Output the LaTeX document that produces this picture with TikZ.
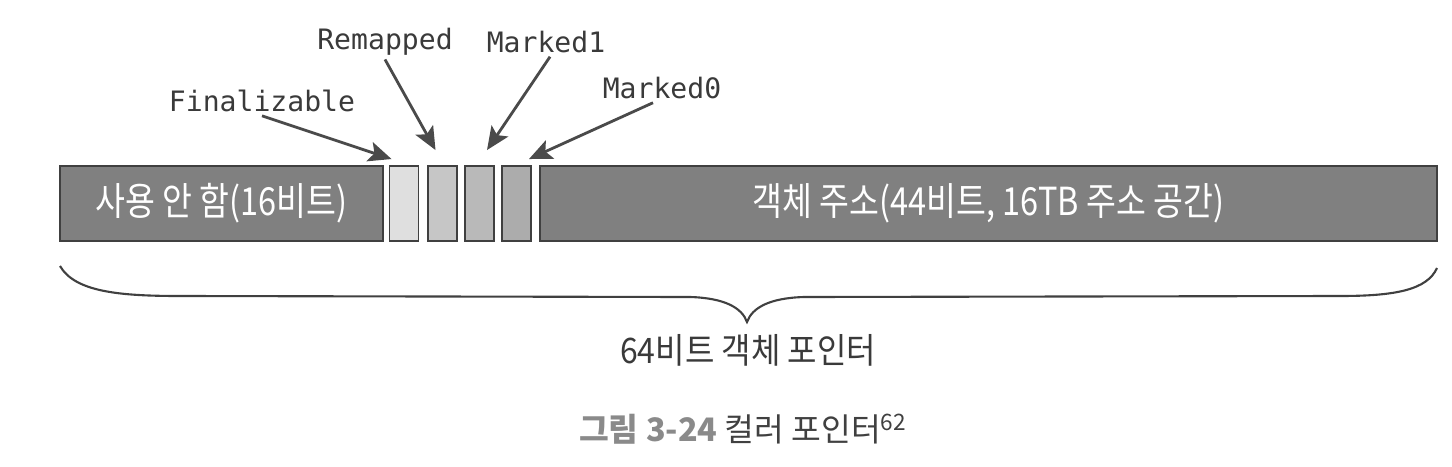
\documentclass[tikz,border=0pt]{standalone}
\usepackage{graphicx}
\usepackage{fontspec}
\setmainfont{Noto Sans CJK KR}
\setmonofont{DejaVu Sans Mono}
\usetikzlibrary{arrows.meta}

\definecolor{boxgray}{HTML}{808080}
\definecolor{edgegray}{HTML}{404040}
\definecolor{labgray}{HTML}{3A3A3A}
\definecolor{arrowgray}{HTML}{4A4A4A}
\definecolor{capgray}{HTML}{8A8A8A}
\definecolor{capdark}{HTML}{404040}

\newcommand\boxfont{\fontsize{22pt}{24pt}\selectfont}
\newcommand\narrow[1]{\scalebox{0.84}[1]{#1}}

\tikzset{
  field/.style={draw=edgegray, line width=1.1pt, fill=boxgray, minimum height=1.5cm,
    inner sep=0pt, text=white, font=\boxfont},
  flag/.style={draw=edgegray, line width=1.1pt, minimum width=0.58cm, minimum height=1.5cm, inner sep=0pt},
  flaglabel/.style={font=\ttfamily\fontsize{16pt}{18pt}\selectfont, text=labgray, inner sep=2pt},
  ptr/.style={draw=arrowgray, line width=1.6pt, -{Stealth[length=0.46cm,width=0.4cm,inset=0.1cm]}},
}

\begin{document}
\begin{tikzpicture}[x=0.02cm, y=-0.02cm]
    \useasboundingbox (0,0) rectangle (1452,466);
    % pointer fields
    \node [field, minimum width=6.46cm] (unused) at (221.5,203.5) {\narrow{사용 안 함(16비트)}};
    \node [flag, fill=gray!25] (fz) at (404,203.5) {};
    \node [flag, fill=gray!45] (rb) at (442.5,203.5) {};
    \node [flag, fill=gray!55] (mb1) at (479.5,203.5) {};
    \node [flag, fill=gray!65] (mb0) at (516.5,203.5) {};
    \node [field, minimum width=17.94cm] (addr) at (988.5,203.5) {\narrow{객체 주소(44비트, 16TB 주소 공간)}};

    % flag labels
    \node [flaglabel] (fin) at (262,101) {Finalizable};
    \node [flaglabel] (rm) at (385,42) {Remapped};
    \node [flaglabel] (m1) at (546,42) {Marked1};
    \node [flaglabel] (m0) at (662,88) {Marked0};

    \draw [ptr] (fin.south) -- ([xshift=0.06cm,yshift=0.12cm]fz.north west);
    \draw [ptr] (rm.south) -- ([xshift=-0.14cm,yshift=0.3cm]rb.north);
    \draw [ptr] ([xshift=0.08cm]m1.south) -- ([xshift=0.15cm,yshift=0.3cm]mb1.north);
    \draw [ptr] ([xshift=-0.18cm]m0.south) -- ([xshift=-0.06cm,yshift=0.12cm]mb0.north east);

    % brace under the whole pointer
    \draw [edgegray, line width=1.2pt] (60,266) .. controls (75,292) and (120,296) .. (180,296)
        -- (690,297) .. controls (725,298) and (742,308) .. (747,322)
        .. controls (752,308) and (769,298) .. (804,297)
        -- (1340,296) .. controls (1395,296) and (1427,290) .. (1437,268);
    \node [text=labgray, font=\fontsize{20pt}{22pt}\selectfont] (total) at (748,350) {\scalebox{0.91}[1]{64비트 객체 포인터}};

    \node [font=\fontsize{18.4pt}{21pt}\selectfont] (caption) at (743,429)
        {{\color{capgray}\bfseries 그림 3-24} {\color{capdark}컬러 포인터\textsuperscript{62}}};
  \end{tikzpicture}
\end{document}
